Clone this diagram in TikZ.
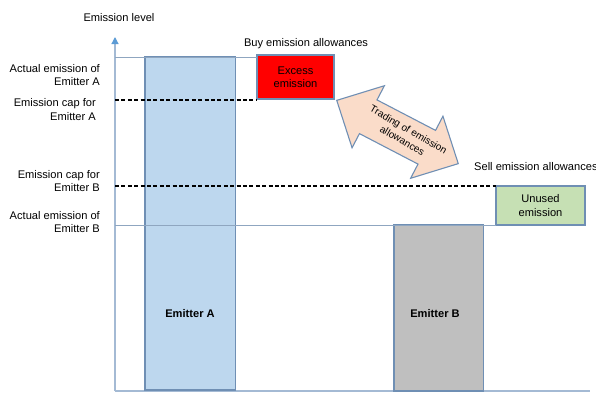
\documentclass[tikz,border=0pt]{standalone}
\usepackage{fontspec}
\setmainfont{Liberation Sans}
\usetikzlibrary{arrows.meta}
\definecolor{edgeblue}{HTML}{6F8FB4}
\definecolor{barAfill}{HTML}{BDD7EE}
\definecolor{barBfill}{HTML}{BFBFBF}
\definecolor{greenfill}{HTML}{C6E0B4}
\definecolor{peach}{HTML}{FADCC9}
\definecolor{axiscol}{HTML}{A4BAD4}
\definecolor{tipcol}{HTML}{5B9BD5}
\definecolor{levelline}{HTML}{8FA6C0}
\begin{document}
\begin{tikzpicture}[x=1pt,y=-1pt,
  font=\fontsize{11.1}{13.5}\selectfont,
  box/.style={draw=edgeblue, line width=1.1pt, inner sep=0pt, outer sep=0pt, align=center},
  lbl/.style={anchor=east, align=right, inner sep=0pt},
  capline/.style={draw=black, line width=1.3pt, dash pattern=on 4pt off 2.4pt},
  actline/.style={draw=levelline, line width=1pt},
  axisline/.style={draw=axiscol, line width=1.2pt}]
\useasboundingbox (0,0) rectangle (596,394);

% axes
\coordinate (origin) at (115,391);
\coordinate (ytop) at (115,37);
\coordinate (xend) at (590,391);
\draw[axisline] (origin) -- (xend);
\draw[axisline, -{Triangle[length=7pt,width=7pt,fill=tipcol,color=tipcol]}] (origin) -- (ytop);
\node (ylab) at (119,18) {Emission level};

% bars and boxes
\node[box, fill=barAfill, minimum width=90.5pt, minimum height=333pt, anchor=north west] (emA) at (145,57) {};
\node[font=\fontsize{11.1}{13.5}\selectfont\bfseries] (emAtxt) at (190,314) {Emitter A};
\node[box, fill=barBfill, minimum width=89.5pt, minimum height=166pt, anchor=north west] (emB) at (394,225) {};
\node[font=\fontsize{11.1}{13.5}\selectfont\bfseries] (emBtxt) at (435,314) {Emitter B};
\node[box, fill=red, minimum width=77pt, minimum height=44pt, anchor=north west] (excess) at (257,55) {Excess\\emission};
\node[box, fill=greenfill, minimum width=89pt, minimum height=39pt, anchor=north west] (unused) at (496,186) {Unused\\emission};

% level lines
\coordinate (aA) at (115,57);
\coordinate (cA) at (115,100);
\coordinate (cB) at (115,186);
\coordinate (aB) at (115,225);
\draw[actline] (aA) -- (excess.west |- aA);
\draw[capline] (cA) -- (excess.south west |- cA);
\draw[capline] (cB) -- (unused.north west);
\draw[actline] (aB) -- (unused.south west);

% left labels
\node[lbl] (la1) at (100,75) {Actual emission of\\Emitter A};
\node[lbl] (la2) at (96,109.5) {Emission cap for\\Emitter A};
\node[lbl] (lb1) at (100,181) {Emission cap for\\Emitter B};
\node[lbl] (lb2) at (100,222) {Actual emission of\\Emitter B};

% top texts
\node (buy) at (306,44) {Buy emission allowances};
\node[anchor=west, inner sep=0pt] (sell) at (474,167) {Sell emission allowances};

% trading arrow
\begin{scope}[shift={(397.5,132)}, rotate=-27.5]
\draw[draw=edgeblue, line width=1.1pt, fill=peach, line join=miter]
  (-68.5,0) -- (-33,-35) -- (-33,-19) -- (33,-19) -- (33,-35) -- (68.5,0)
  -- (33,35) -- (33,19) -- (-33,19) -- (-33,35) -- cycle;
\end{scope}
\node[rotate=-30, align=center, inner sep=0pt, font=\fontsize{10}{12.6}\selectfont] (trade) at (405.5,135) {Trading of emission\\allowances};
\end{tikzpicture}
\end{document}
